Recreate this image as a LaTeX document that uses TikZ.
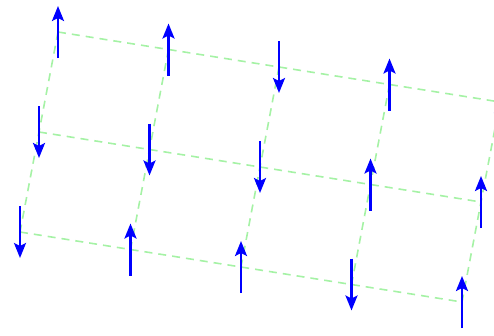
\documentclass[tikz,border=0pt]{standalone}
\usetikzlibrary{arrows.meta,calc}
\definecolor{gridgreen}{RGB}{165,242,165}
\definecolor{spinblue}{RGB}{0,0,255}
\begin{document}
\begin{tikzpicture}[x=1pt,y=-1pt,
  gridline/.style={draw=gridgreen,line width=1.6pt,dash pattern=on 8pt off 6pt},
  spin/.style={draw=spinblue,line width=2.4pt,-{Stealth[length=15pt,width=12pt,inset=3pt]}}]
\useasboundingbox (0,0) rectangle (494,335);
\clip (0,0) rectangle (494,335);
\foreach \i in {0,...,4}{
  \foreach \j in {0,1,2}{
    \coordinate (p\i\j) at ({58+110.5*\i-19*\j},{32+17.5*\i+100*\j});
  }
}
\foreach \j in {0,1,2}
  \draw[gridline] (p0\j) -- (p1\j) -- (p2\j) -- (p3\j) -- (p4\j);
\foreach \i in {0,...,4}
  \draw[gridline] (p\i0) -- (p\i1) -- (p\i2);
\foreach \i/\j/\s in {0/0/1,1/0/1,2/0/-1,3/0/1,4/0/-1,
                      0/1/-1,1/1/-1,2/1/-1,3/1/1,4/1/1,
                      0/2/-1,1/2/1,2/2/1,3/2/-1,4/2/1}
  \draw[spin] ($(p\i\j)+(0,26*\s)$) -- ($(p\i\j)-(0,26*\s)$);
\end{tikzpicture}
\end{document}
